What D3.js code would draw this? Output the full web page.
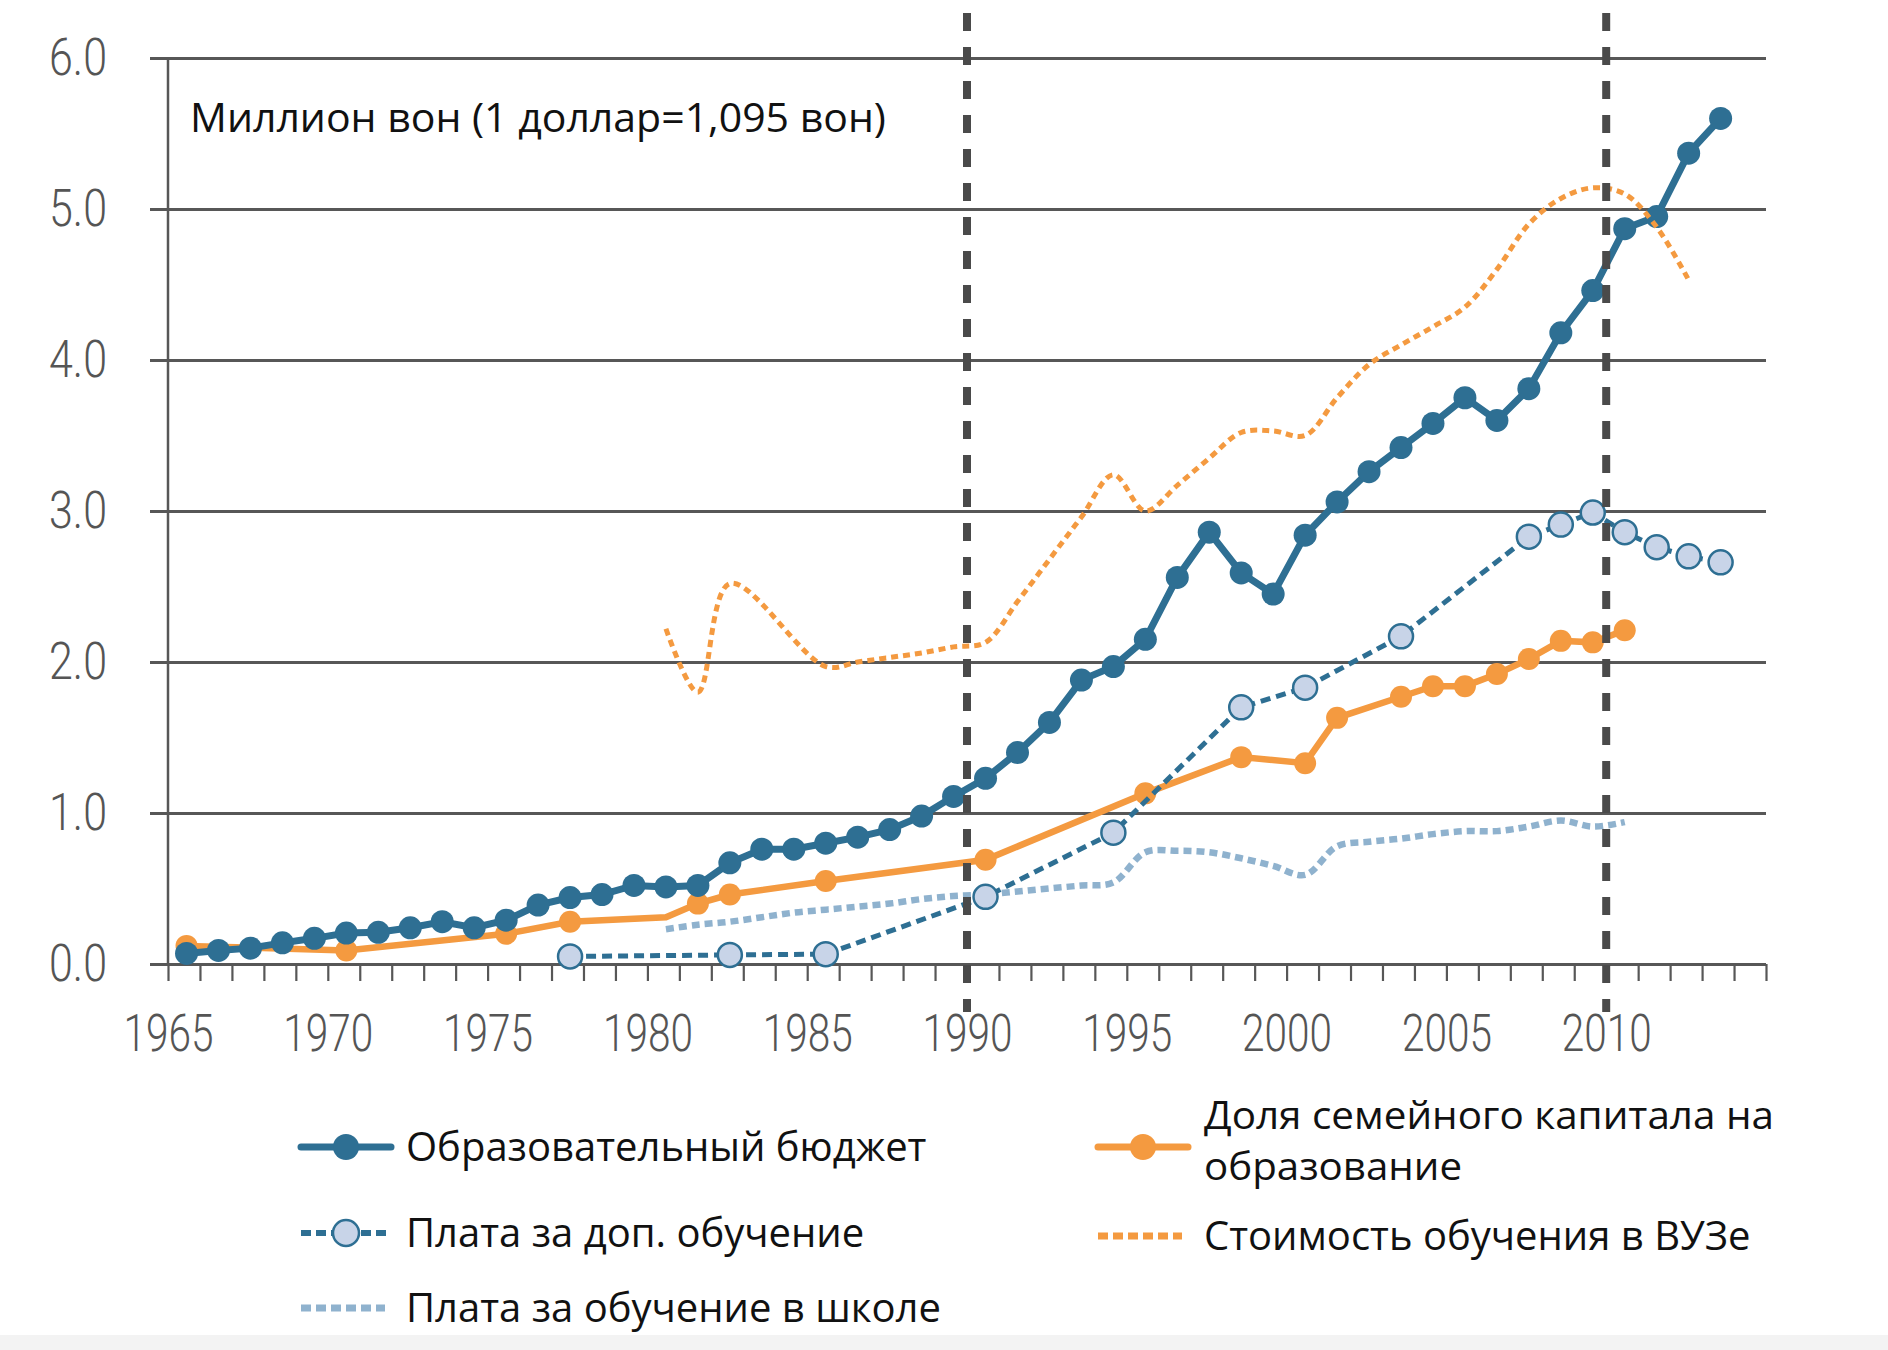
<!DOCTYPE html>
<html><head><meta charset="utf-8">
<script src="https://cdn.jsdelivr.net/npm/d3@7"></script>
<style>body{margin:0;background:#fff}</style>
</head><body>
<svg id="chart" width="1888" height="1350"></svg>
<script>
// ---------------- DATA ----------------
const unitLabel = "Миллион вон (1 доллар=1,095 вон)";
const yTicks = [0, 1, 2, 3, 4, 5, 6];
const xTickYears = d3.range(1965, 2016);
const xLabelYears = [1965, 1970, 1975, 1980, 1985, 1990, 1995, 2000, 2005, 2010];
const markerLineYears = [1990, 2010];

const budgetYears = d3.range(1965, 2014);
const budgetValues = [0.07, 0.09, 0.105, 0.14, 0.17, 0.205, 0.21, 0.24, 0.28, 0.24,
  0.29, 0.39, 0.44, 0.46, 0.52, 0.51, 0.52, 0.67, 0.76, 0.76,
  0.80, 0.84, 0.89, 0.98, 1.11, 1.23, 1.40, 1.60, 1.88, 1.97,
  2.15, 2.56, 2.86, 2.59, 2.45, 2.84, 3.06, 3.26, 3.42, 3.58,
  3.75, 3.60, 3.81, 4.18, 4.46, 4.87, 4.95, 5.37, 5.60];

const familyYears = [1965, 1970, 1975, 1977, 1980, 1981, 1982, 1985, 1990, 1995, 1998, 2000, 2001, 2003, 2004, 2005, 2006, 2007, 2008, 2009, 2010];
const familyValues = [0.12, 0.09, 0.20, 0.28, 0.31, 0.40, 0.46, 0.55, 0.69, 1.13, 1.37, 1.33, 1.63, 1.77, 1.84, 1.84, 1.92, 2.02, 2.14, 2.13, 2.21];
const familyUnmarkedYears = [1980];

const tutoringYears = [1977, 1982, 1985, 1990, 1994, 1998, 2000, 2003, 2007, 2008, 2009, 2010, 2011, 2012, 2013];
const tutoringValues = [0.05, 0.06, 0.065, 0.445, 0.87, 1.70, 1.83, 2.17, 2.83, 2.91, 2.99, 2.86, 2.76, 2.70, 2.66];

const schoolYears = d3.range(1980, 2011);
const schoolValues = [0.23, 0.26, 0.28, 0.31, 0.34, 0.36, 0.38, 0.40, 0.43, 0.45,
  0.46, 0.48, 0.50, 0.52, 0.54, 0.74, 0.75, 0.74, 0.70, 0.65,
  0.59, 0.78, 0.81, 0.83, 0.86, 0.88, 0.88, 0.91, 0.95, 0.91, 0.94];

const tuitionYears = [1980, 1981, 1982, 1985, 1986, 1987, 1988, 1989, 1990, 1991, 1992, 1993, 1994, 1995, 1996, 1997, 1998, 1999, 2000, 2001, 2002, 2003, 2004, 2005, 2006, 2007, 2008, 2009, 2010, 2011, 2012];
const tuitionValues = [2.22, 1.80, 2.52, 1.97, 2.00, 2.03, 2.06, 2.10, 2.13, 2.40, 2.68, 2.96, 3.24, 3.00, 3.17, 3.35, 3.52, 3.53, 3.50, 3.75, 3.97, 4.10, 4.22, 4.35, 4.60, 4.90, 5.07, 5.14, 5.10, 4.88, 4.53];

const legendLabels = [
  ["Образовательный бюджет"],
  ["Плата за доп. обучение"],
  ["Плата за обучение в школе"],
  ["Доля семейного капитала на", "образование"],
  ["Стоимость обучения в ВУЗе"]
];

// ---------------- STYLE ----------------
const BLUE = "#2e6f93", ORANGE = "#f49a40", LIGHT = "#c8d4e8", SCHOOL = "#8fb2ce", GRID = "#575757";
const axisFont = "'Roboto', 'Liberation Sans Narrow', sans-serif";
const textFont = "'Open Sans', 'Noto Sans', sans-serif";

const svg = d3.select("#chart");
svg.append("rect").attr("x", 0).attr("y", 1335).attr("width", 1888).attr("height", 15).attr("fill", "#f3f3f3");

const x = d3.scaleLinear().domain([1965, 2015]).range([168, 1766]);
const y = d3.scaleLinear().domain([0, 6]).range([964, 58]);
const OFF = 0.58;
const px = yr => x(yr + OFF);

function fit(sel, target) {
  const n = sel.node().getComputedTextLength();
  if (Math.abs(n - target) / target > 0.015) sel.attr("textLength", target).attr("lengthAdjust", "spacingAndGlyphs");
}

// gridlines + y labels
const gy = svg.append("g").attr("transform", "translate(150,0)")
  .call(d3.axisLeft(y).tickValues(yTicks).tickSize(-(1766 - 150)).tickPadding(43).tickFormat(d3.format(".1f")));
gy.select(".domain").remove();
gy.selectAll(".tick line").attr("stroke", GRID).attr("stroke-width", 3);
gy.selectAll(".tick text").attr("font-family", axisFont).attr("font-weight", 300).attr("font-size", 51)
  .attr("fill", "#555").attr("dy", "0.33em")
  .each(function () { fit(d3.select(this), 58); });

// y axis line
svg.append("line").attr("x1", x(1965)).attr("x2", x(1965)).attr("y1", y(6)).attr("y2", y(0))
  .attr("stroke", GRID).attr("stroke-width", 2.5);

// x axis ticks + labels
const gx = svg.append("g").attr("transform", `translate(0,${y(0)})`)
  .call(d3.axisBottom(x).tickValues(xTickYears).tickSize(17).tickPadding(34)
    .tickFormat(d => xLabelYears.includes(d) ? String(d) : ""));
gx.select(".domain").remove();
gx.selectAll(".tick line").attr("stroke", GRID).attr("stroke-width", 2.2);
gx.selectAll(".tick text").attr("font-family", axisFont).attr("font-weight", 300).attr("font-size", 51)
  .attr("fill", "#555")
  .each(function (d) { if (xLabelYears.includes(d)) fit(d3.select(this), 90); });

// unit label
const t = svg.append("text").attr("x", 190).attr("y", 132).attr("font-family", textFont)
  .attr("font-size", 41).attr("fill", "#111").text(unitLabel);
fit(t, 692);

const pts = (ys, vs) => ys.map((yr, i) => [yr, vs[i]]);
const lineLin = d3.line().x(d => px(d[0])).y(d => y(d[1]));
const lineSmooth = d3.line().x(d => px(d[0])).y(d => y(d[1])).curve(d3.curveCatmullRom.alpha(0.5));

const plot = svg.append("g");
// family share (orange solid)
const fam = pts(familyYears, familyValues);
plot.append("path").attr("d", lineLin(fam)).attr("fill", "none").attr("stroke", ORANGE).attr("stroke-width", 6.5);
plot.selectAll(".fm").data(fam.filter(d => !familyUnmarkedYears.includes(d[0]))).join("circle")
  .attr("cx", d => px(d[0])).attr("cy", d => y(d[1])).attr("r", 11).attr("fill", ORANGE);

// budget (blue solid)
const bud = pts(budgetYears, budgetValues);
plot.append("path").attr("d", lineLin(bud)).attr("fill", "none").attr("stroke", BLUE).attr("stroke-width", 7);
plot.selectAll(".bm").data(bud).join("circle")
  .attr("cx", d => px(d[0])).attr("cy", d => y(d[1])).attr("r", 11.5).attr("fill", BLUE);

// school fee (light blue dotted)
plot.append("path").attr("d", lineSmooth(pts(schoolYears, schoolValues))).attr("fill", "none")
  .attr("stroke", SCHOOL).attr("stroke-width", 6.5).attr("stroke-dasharray", "8,5");

// university tuition (orange dotted)
plot.append("path").attr("d", lineSmooth(pts(tuitionYears, tuitionValues))).attr("fill", "none")
  .attr("stroke", ORANGE).attr("stroke-width", 5).attr("stroke-dasharray", "7,5");

// private tutoring (blue dashed with light circles)
const tut = pts(tutoringYears, tutoringValues);
plot.append("path").attr("d", lineLin(tut)).attr("fill", "none").attr("stroke", BLUE)
  .attr("stroke-width", 5).attr("stroke-dasharray", "10,6");
plot.selectAll(".tm").data(tut).join("circle")
  .attr("cx", d => px(d[0])).attr("cy", d => y(d[1])).attr("r", 12)
  .attr("fill", LIGHT).attr("stroke", BLUE).attr("stroke-width", 2.5);

// vertical dashed reference lines
svg.selectAll(".vref").data(markerLineYears).join("line")
  .attr("x1", d => x(d)).attr("x2", d => x(d)).attr("y1", 13).attr("y2", 1012)
  .attr("stroke", "#4a4a4a").attr("stroke-width", 8).attr("stroke-dasharray", "18,16");

// ---------------- LEGEND ----------------
const legendLayout = [
  {sx: 301, cx: 406, cy: 1147, kind: "budget", widths: [526], fs: 40},
  {sx: 301, cx: 406, cy: 1233, kind: "tutoring", widths: [460], fs: 40},
  {sx: 301, cx: 406, cy: 1308, kind: "school", widths: [534], fs: 40},
  {sx: 1098, cx: 1204, cy: 1147, kind: "family", widths: [570, 258], lines: [1115, 1166], fs: 38},
  {sx: 1098, cx: 1204, cy: 1236, kind: "tuition", widths: [542], fs: 40}
];
const lg = svg.append("g");
legendLayout.forEach((L, i) => {
  const g = lg.append("g");
  const x1 = L.sx, x2 = L.sx + 90, mid = L.sx + 45;
  if (L.kind === "budget" || L.kind === "family") {
    const c = L.kind === "budget" ? BLUE : ORANGE;
    g.append("line").attr("x1", x1).attr("x2", x2).attr("y1", L.cy).attr("y2", L.cy)
      .attr("stroke", c).attr("stroke-width", 7).attr("stroke-linecap", "round");
    g.append("circle").attr("cx", mid).attr("cy", L.cy).attr("r", 13).attr("fill", c);
  } else if (L.kind === "tutoring") {
    g.append("line").attr("x1", x1).attr("x2", x2).attr("y1", L.cy).attr("y2", L.cy)
      .attr("stroke", BLUE).attr("stroke-width", 6).attr("stroke-dasharray", "10,5");
    g.append("circle").attr("cx", mid).attr("cy", L.cy).attr("r", 13)
      .attr("fill", LIGHT).attr("stroke", BLUE).attr("stroke-width", 2.5);
  } else {
    const c = L.kind === "school" ? SCHOOL : ORANGE;
    g.append("line").attr("x1", x1).attr("x2", x2 - 6).attr("y1", L.cy).attr("y2", L.cy)
      .attr("stroke", c).attr("stroke-width", 7).attr("stroke-dasharray", "10,5");
  }
  legendLabels[i].forEach((txt, j) => {
    const cy = L.lines ? L.lines[j] : L.cy;
    const tt = g.append("text").attr("x", L.cx).attr("y", cy + 14).attr("font-family", textFont)
      .attr("font-size", L.fs).attr("fill", "#111").text(txt);
    fit(tt, L.widths[j]);
  });
});
</script>
</body></html>
